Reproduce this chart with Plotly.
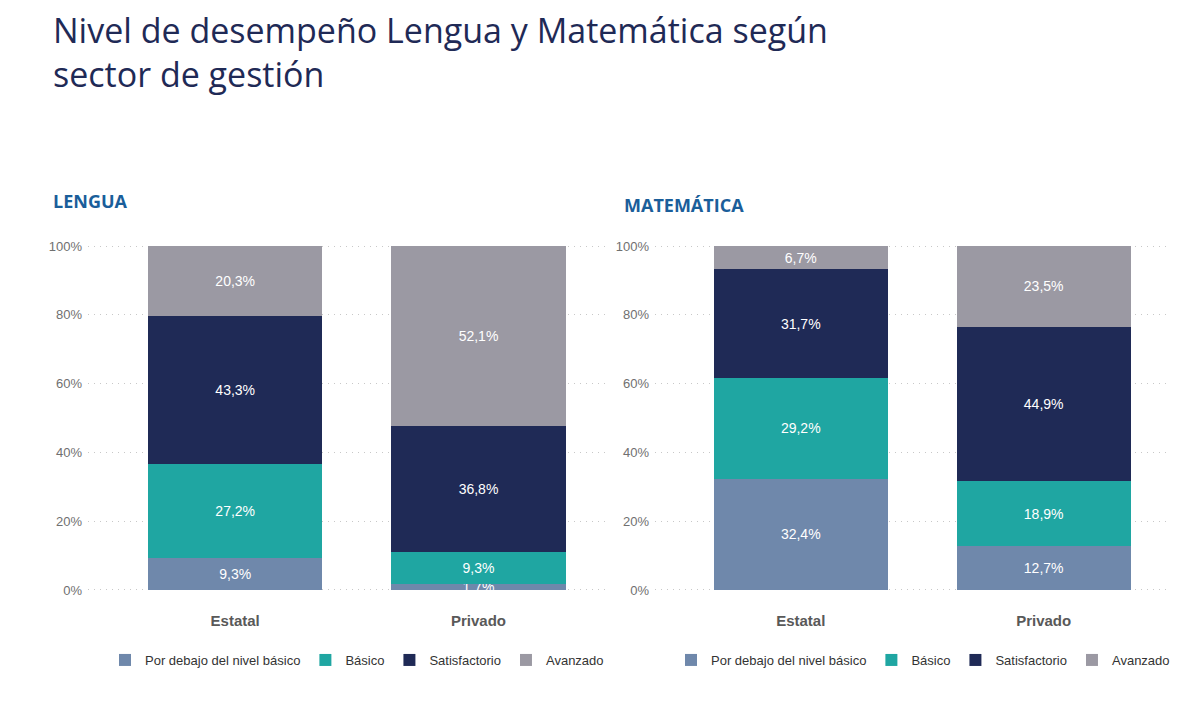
import plotly.graph_objects as go

categories = ["Estatal", "Privado"]
levels = ["Por debajo del nivel básico", "Básico", "Satisfactorio", "Avanzado"]
colors = ["#6f88ab", "#1fa6a2", "#1f2a56", "#9b99a3"]

lengua = {
    "Por debajo del nivel básico": [9.3, 1.7],
    "Básico": [27.2, 9.3],
    "Satisfactorio": [43.3, 36.8],
    "Avanzado": [20.3, 52.1],
}
matematica = {
    "Por debajo del nivel básico": [32.4, 12.7],
    "Básico": [29.2, 18.9],
    "Satisfactorio": [31.7, 44.9],
    "Avanzado": [6.7, 23.5],
}
y_ticks = [0, 20, 40, 60, 80, 100]
y_ticktext = ["0%", "20%", "40%", "60%", "80%", "100%"]

W, H = 1185, 703


def fmt(v):
    return f"{v:.1f}".replace(".", ",") + "%"


fig = go.Figure()
for data, xa, ya, leg in [(lengua, "x", "y", "legend"), (matematica, "x2", "y2", "legend2")]:
    for lvl, col in zip(levels, colors):
        vals = data[lvl]
        fig.add_trace(go.Bar(
            x=categories, y=vals, name=lvl, xaxis=xa, yaxis=ya, legend=leg,
            marker=dict(color=col, line=dict(width=0)),
            text=[fmt(v) for v in vals], textposition="inside",
            insidetextanchor="middle", constraintext="none",
            textfont=dict(color="white", size=14, family="Liberation Sans, Arial"),
            width=0.716, hoverinfo="skip", cliponaxis=False,
        ))

ydom = [1 - 591 / H, 1 - 245 / H]
axis_common_y = dict(
    range=[-0.3, 100.3], tickmode="array", tickvals=y_ticks, ticktext=y_ticktext,
    showgrid=True, gridcolor="#c8c8c8", griddash="1px,5px", gridwidth=1, zeroline=False,
    showline=False, ticks="", domain=ydom, automargin=False, ticklabelstandoff=5,
    tickfont=dict(family="Liberation Sans, Arial", size=13, color="#707070"),
)
axis_common_x = dict(
    showgrid=False, zeroline=False, showline=False, ticks="", automargin=False,
    tickfont=dict(family="Liberation Sans, Arial", size=15, color="#595959", weight="bold"),
    ticklabelstandoff=19,
)

fig.update_layout(
    width=W, height=H, autosize=False,
    margin=dict(l=0, r=0, t=0, b=0, pad=0, autoexpand=False),
    paper_bgcolor="white", plot_bgcolor="white",
    barmode="stack", showlegend=True,
    xaxis=dict(domain=[88 / W, 605 / W], range=[-0.605, 1.52], **axis_common_x),
    yaxis=dict(anchor="x", **axis_common_y),
    xaxis2=dict(domain=[655 / W, 1170 / W], range=[-0.6, 1.52], **axis_common_x),
    yaxis2=dict(anchor="x2", **axis_common_y),
    legend=dict(orientation="h", x=357 / W, y=1 - 660 / H, xanchor="center", yanchor="middle",
                font=dict(family="Liberation Sans, Arial", size=13, color="#333333"),
                traceorder="normal", itemclick=False, itemdoubleclick=False),
    legend2=dict(orientation="h", x=923 / W, y=1 - 660 / H, xanchor="center", yanchor="middle",
                 font=dict(family="Liberation Sans, Arial", size=13, color="#333333"),
                 traceorder="normal", itemclick=False, itemdoubleclick=False),
    annotations=[
        dict(text="Nivel de desempeño Lengua y Matemática según<br>sector de gestión",
             x=51 / W, y=1 - 5 / H, xref="paper", yref="paper", xanchor="left", yanchor="top",
             align="left", showarrow=False,
             font=dict(family="Open Sans", size=34, color="#1f2a56")),
        dict(text="<b>LENGUA</b>", x=51 / W, y=1 - 201 / H, xref="paper", yref="paper",
             xanchor="left", yanchor="middle", showarrow=False,
             font=dict(family="Open Sans", size=18, color="#1a5e9a")),
        dict(text="<b>MATEMÁTICA</b>", x=622 / W, y=1 - 205 / H, xref="paper", yref="paper",
             xanchor="left", yanchor="middle", showarrow=False,
             font=dict(family="Open Sans", size=18, color="#1a5e9a")),
    ],
)

fig.write_html("out.html")
